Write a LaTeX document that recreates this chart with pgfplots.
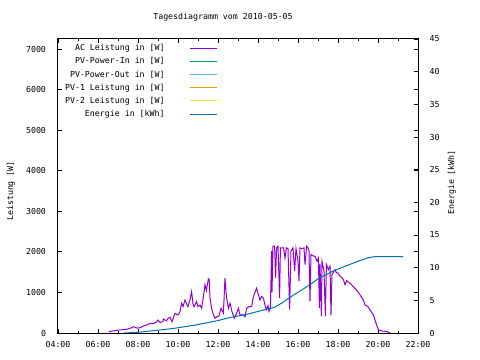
\documentclass[border=0pt]{standalone}
\usepackage{fontspec}
\setmainfont{DejaVu Sans Mono}
\usepackage{pgfplots}
\usepackage{pgfplotstable}
\pgfplotsset{compat=1.18}
\definecolor{cAC}{HTML}{9400D3}
\definecolor{cIn}{HTML}{009E73}
\definecolor{cOut}{HTML}{56B4E9}
\definecolor{cPVa}{HTML}{E69F00}
\definecolor{cPVb}{HTML}{F0E442}
\definecolor{cE}{HTML}{0072B2}

\pgfplotstableread{
h P
6.55 30
6.77 55
7.1 75
7.4 90
7.6 115
7.77 155
7.95 120
8.1 130
8.27 175
8.45 200
8.6 240
8.75 230
8.93 270
9.0 320
9.1 260
9.25 280
9.27 345
9.43 300
9.5 360
9.6 390
9.7 280
9.85 485
10.0 445
10.1 525
10.18 735
10.25 650
10.35 815
10.45 700
10.5 650
10.6 820
10.68 1020
10.75 720
10.8 650
10.93 775
11.0 650
11.1 690
11.18 610
11.27 900
11.35 1190
11.42 1050
11.52 1335
11.56 1310
11.6 860
11.68 610
11.77 445
11.85 365
11.93 400
12.05 420
12.15 610
12.27 490
12.35 1350
12.43 860
12.52 610
12.6 735
12.7 525
12.82 365
12.93 490
13.02 610
13.1 445
13.27 445
13.35 400
13.43 610
13.55 650
13.68 650
13.77 900
13.85 1000
13.93 1105
14.0 980
14.1 815
14.18 900
14.27 860
14.35 690
14.42 575
14.5 675
14.55 535
14.62 617
14.68 2020
14.7 1000
14.75 2140
14.83 2140
14.88 1360
14.93 2100
15.0 2140
15.08 864
15.12 2100
15.2 2100
15.28 2100
15.35 1850
15.42 2100
15.5 2080
15.58 575
15.65 2020
15.75 2100
15.83 1525
15.9 2080
16.0 1770
16.05 1280
16.1 2100
16.2 2080
16.3 2100
16.35 1690
16.43 2140
16.5 2100
16.55 2020
16.6 785
16.65 1935
16.75 1900
16.85 1895
16.95 1770
17.02 1850
17.07 620
17.1 1690
17.17 410
17.2 1770
17.3 1525
17.37 410
17.42 1690
17.52 1565
17.6 1650
17.65 450
17.7 1440
17.8 1525
17.85 1565
17.93 1480
18.0 1480
18.1 1400
18.2 1360
18.27 1320
18.35 1190
18.43 1290
18.6 1230
18.77 1140
18.93 1060
19.1 940
19.27 815
19.35 690
19.5 650
19.6 570
19.77 445
19.85 320
19.93 200
20.02 75
20.18 50
20.43 40
20.6 5
}\acdata

\pgfplotstableread{
h E
7.3 0
8.0 0.1
8.6 0.3
9.5 0.6
10.0 0.8
10.85 1.2
11.5 1.6
12.0 1.9
12.5 2.3
13.0 2.6
13.5 2.9
14.0 3.3
14.5 3.7
14.8 3.9
15.2 4.6
15.77 5.8
16.2 6.6
16.6 7.4
17.1 8.5
17.4 8.9
17.7 9.4
18.1 9.9
18.5 10.4
18.77 10.7
19.1 11.1
19.5 11.5
19.85 11.7
21.25 11.7
}\edata

\begin{document}
\begin{tikzpicture}[font=\fontsize{8.3}{10}\selectfont]
\useasboundingbox (-58bp,-27bp) rectangle (422bp,333bp);
\begin{axis}[
  at={(0,0)}, anchor=south west,
  scale only axis, width=360bp, height=294bp,
  xmin=4, xmax=22, ymin=0, ymax=7250,
  xtick={4,6,...,22},
  xticklabels={04:00,06:00,08:00,10:00,12:00,14:00,16:00,18:00,20:00,22:00},
  minor x tick num=1,
  ytick={0,1000,...,7000},
  yticklabel pos=left,
  tick align=inside,
  major tick length=4bp, minor tick length=2bp,
  every tick/.style={black, line width=0.8bp},
  axis line style={line width=1bp},
  /pgf/number format/assume math mode=true,
  /pgf/number format/1000 sep={},
  yticklabel style={xshift=-8.5bp},
  xticklabel style={yshift=-4.5bp},
  ylabel={Leistung [W]},
  ylabel style={at={(axis description cs:-0.1306,0.483)}, anchor=center},
  legend plot pos=right,
  legend cell align=right,
  legend image code/.code={\draw[#1, line width=1bp] (0bp,0bp) -- (27bp,0bp);},
  legend style={at={(axis description cs:0.444,0.985)}, anchor=north east,
    draw=none, fill=none, inner sep=0pt, column sep=25bp, row sep=4.2bp,
    nodes={inner sep=0pt, text height=7bp, text depth=2bp}},
]
\addplot[cAC, line width=1bp] table[x=h, y=P] {\acdata};
\addlegendentry{AC Leistung in [W]}
\addlegendimage{cIn}
\addlegendentry{PV-Power-In in [W]}
\addlegendimage{cOut}
\addlegendentry{PV-Power-Out in [W]}
\addlegendimage{cPVa}
\addlegendentry{PV-1 Leistung in [W]}
\addlegendimage{cPVb}
\addlegendentry{PV-2 Leistung in [W]}
\addlegendimage{cE}
\addlegendentry{Energie in [kWh]}
\end{axis}
\begin{axis}[
  at={(0,0)}, anchor=south west,
  scale only axis, width=360bp, height=294bp,
  xmin=4, xmax=22, ymin=0, ymax=45,
  axis x line=none,
  axis y line*=right,
  ytick={0,5,...,45},
  tick align=inside,
  major tick length=4bp,
  every tick/.style={black, line width=0.8bp},
  axis line style={line width=1bp, -},
  /pgf/number format/assume math mode=true,
  yticklabel style={xshift=8bp},
  ylabel={Energie [kWh]},
  ylabel style={at={(axis description cs:1.094,0.512)}, anchor=center, rotate=0},
]
\addplot[cE, line width=1bp] table[x=h, y=E] {\edata};
\end{axis}
\node at (165bp,315.7bp) {Tagesdiagramm vom 2010-05-05};
\end{tikzpicture}
\end{document}
